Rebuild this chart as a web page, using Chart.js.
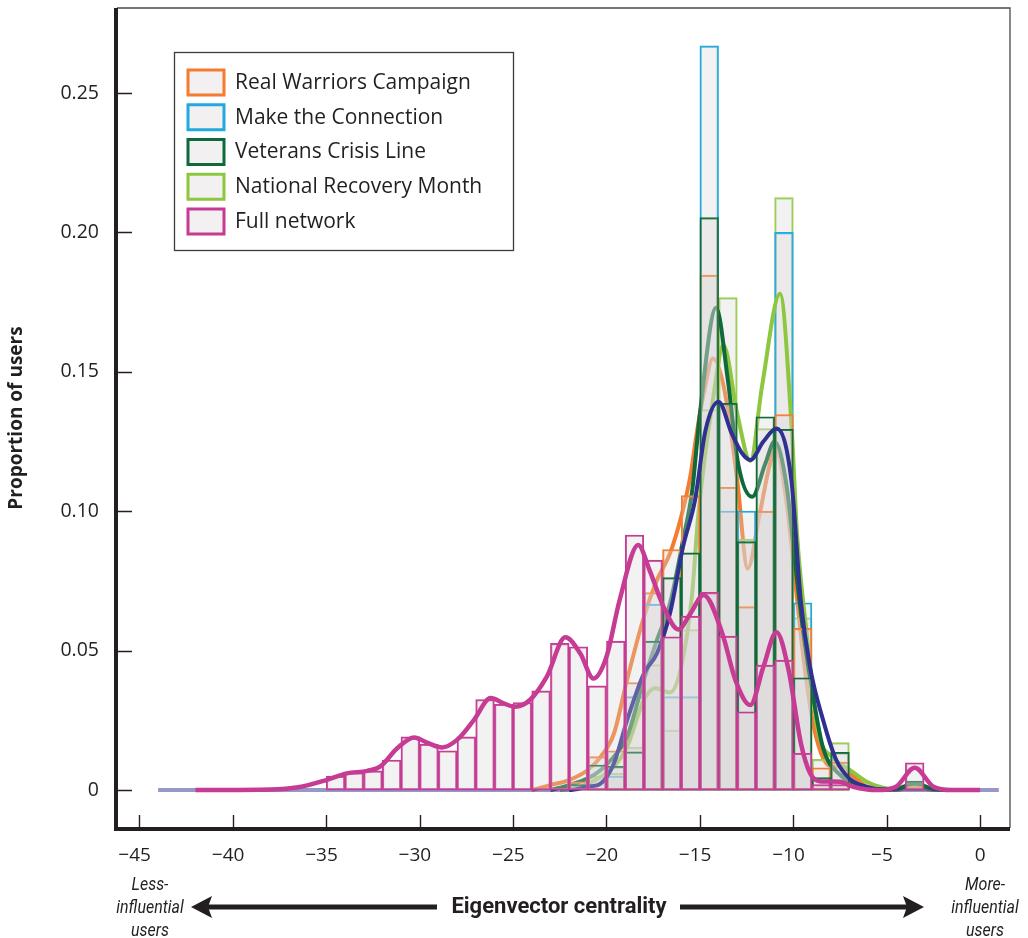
<!DOCTYPE html>
<html><head><meta charset="utf-8">
<script src="https://cdn.jsdelivr.net/npm/chart.js@4.4.1/dist/chart.umd.min.js"></script>
<style>html,body{margin:0;padding:0;background:#fff}#wrap{width:1028px;height:938px;position:relative}</style>
</head><body><div id="wrap"><canvas id="c"></canvas></div>
<script>
// ---------- data ----------
const seriesNames = ['Real Warriors Campaign','Make the Connection','Veterans Crisis Line','National Recovery Month','Full network'];
const xTickValues = [-45,-40,-35,-30,-25,-20,-15,-10,-5,0];
const xTickLabels = ['\u221245','\u221240','\u221235','\u221230','\u221225','\u221220','\u221215','\u221210','\u22125','0'];
const yTickValues = [0,0.05,0.10,0.15,0.20,0.25];
const yTickLabels = ['0','0.05','0.10','0.15','0.20','0.25'];

// histogram bins (centres of 1-unit bins)
const binCenters = [-34.5,-33.5,-32.5,-31.5,-30.5,-29.5,-28.5,-27.5,-26.5,-25.5,-24.5,-23.5,-22.5,-21.5,-20.5,-19.5,-18.5,-17.5,-16.5,-15.5,-14.5,-13.5,-12.5,-11.5,-10.5,-9.5,-8.5,-7.5,-6.5,-5.5,-4.5,-3.5,-2.5];
const barsRealWarriors = [0,0,0,0,0,0,0,0,0,0,0,0,0,0.003,0.012,0.0141,0.0386,0.0708,0.0863,0.1056,0.1847,0.1086,0.0658,0.100,0.1347,0.058,0.008,0.010,0,0,0,0.0013,0];
const barsMakeConnection = [0,0,0,0,0,0,0,0,0,0,0,0,0,0,0,0.005,0.0335,0.0667,0.0335,0.0335,0.2669,0.1001,0.1001,0.1001,0.2000,0.0672,0,0,0,0,0,0,0];
const barsCrisisLine = [0,0,0,0,0,0,0,0,0,0,0,0,0,0.002,0.009,0.0085,0.0137,0.0534,0.0762,0.0851,0.2053,0.1387,0.0891,0.1339,0.1294,0.0403,0.0045,0.0135,0,0,0,0.0032,0];
const barsRecoveryMonth = [0,0,0,0,0,0,0,0,0,0,0,0,0,0,0.005,0.006,0.0153,0.045,0.0215,0.0576,0.1365,0.1766,0.090,0.1297,0.2125,0.0618,0.011,0.017,0,0,0,0.002,0];
const barsFullNetwork = [0.005,0.0062,0.0069,0.0108,0.0191,0.0165,0.0141,0.0191,0.0325,0.0308,0.0314,0.0356,0.0526,0.0514,0.0374,0.0534,0.0915,0.0825,0.055,0.0624,0.0709,0.0552,0.0281,0.0448,0.0466,0.0132,0.002,0.002,0,0,0,0.0098,0];

// density curves [x, y]
const kdeRealWarriors = [[-24,0],[-23,0.0018],[-22,0.0036],[-21,0.0072],[-20.3,0.012],[-19.6,0.0203],[-18.9,0.0395],[-18,0.062],[-17.3,0.0753],[-16.6,0.0849],[-16,0.098],[-15.5,0.113],[-15.17,0.128],[-14.8,0.142],[-14.3,0.1548],[-13.7,0.144],[-13,0.111],[-12.44,0.0795],[-11.8,0.099],[-11.25,0.117],[-10.95,0.123],[-10.4,0.105],[-9.9,0.075],[-9.5,0.05],[-9,0.026],[-8.5,0.013],[-8,0.0085],[-7.4,0.0084],[-6.8,0.005],[-6,0.001],[-5,0],[-4.2,0.0003],[-3.5,0.0015],[-2.8,0.0003],[-2,0]];
const kdeMakeConnection = [[-44,0],[-22,0],[-21,0.0012],[-20.3,0.0024],[-19.6,0.0096],[-18.9,0.025],[-18,0.0418],[-17.3,0.049],[-16.6,0.0634],[-15.9,0.0873],[-15.26,0.104],[-14.7,0.129],[-14,0.1393],[-13.3,0.128],[-12.76,0.121],[-12.3,0.1184],[-11.6,0.125],[-10.9,0.1297],[-10.1,0.111],[-9.6,0.068],[-9.1,0.044],[-8.4,0.025],[-7.7,0.0108],[-7,0.0042],[-6.1,0.0012],[-5,0],[1,0]];
const kdeCrisisLine = [[-23,0],[-22,0.0018],[-21,0.0042],[-20.3,0.0072],[-19.6,0.012],[-18.9,0.019],[-18,0.0395],[-17.3,0.0538],[-16.6,0.067],[-15.9,0.0897],[-15.4,0.108],[-15,0.135],[-14.13,0.173],[-13.5,0.147],[-12.95,0.117],[-12.2,0.1052],[-11.5,0.117],[-11,0.125],[-10.35,0.1088],[-9.9,0.0813],[-9.45,0.056],[-8.9,0.032],[-8.4,0.015],[-7.5,0.0055],[-6.5,0.002],[-5.5,0.0003],[-4.5,0.0004],[-3.5,0.0024],[-2.5,0.0004],[-1.5,0]];
const kdeRecoveryMonth = [[-22.5,0],[-21.4,0.0012],[-20.3,0.0048],[-19.6,0.0084],[-18.9,0.0155],[-18,0.0323],[-17.4,0.0365],[-16.6,0.035],[-16,0.0442],[-15.43,0.0693],[-15.08,0.099],[-14.28,0.141],[-13.74,0.1596],[-13,0.135],[-12.3,0.118],[-11.67,0.145],[-10.71,0.178],[-10.08,0.129],[-9.8,0.092],[-9.28,0.056],[-8.7,0.022],[-7.85,0.0115],[-6.96,0.0072],[-6.07,0.003],[-5.3,0.001],[-4.5,0.0003],[-3.5,0.002],[-2.6,0.0003],[-1.8,0]];
const kdeFullNetwork = [[-42,0],[-38,0.0002],[-36.5,0.001],[-35,0.0036],[-33.9,0.006],[-32.8,0.0069],[-32.1,0.0085],[-31.2,0.015],[-30.3,0.0189],[-29.6,0.017],[-28.8,0.0153],[-28,0.018],[-27.1,0.0251],[-26.2,0.033],[-25.5,0.0311],[-24.9,0.0299],[-24.1,0.0323],[-23.2,0.0406],[-22.2,0.0548],[-21.4,0.049],[-20.7,0.040],[-20,0.0478],[-19.3,0.068],[-18.3,0.0879],[-17.7,0.079],[-16.95,0.0658],[-16.15,0.0576],[-15.5,0.0634],[-14.8,0.070],[-13.8,0.0562],[-13.1,0.0395],[-12.3,0.0305],[-11.6,0.0442],[-10.9,0.0566],[-10.25,0.043],[-9.6,0.017],[-9.1,0.006],[-8.6,0.0032],[-7.5,0.003],[-6.8,0.0012],[-5.5,0],[-4.5,0.0012],[-3.5,0.008],[-2.5,0.0012],[-1.5,0],[0,0]];

// ---------- styling ----------
const ORANGE='#f47b30', CYAN='#22a9e0', DKGREEN='#0e6a3a', LTGREEN='#8dc63f', MAGENTA='#c63b93', NAVY='#2e3192';
const legendColors = [ORANGE, CYAN, DKGREEN, LTGREEN, MAGENTA];
const BAR_FILL = 'rgba(215,211,211,0.3)';
const FONT = "'Open Sans', sans-serif";

function pts(xs, ys){ return xs.map((x,i)=>({x:x, y:ys[i]})); }
function curve(arr){ return arr.map(p=>({x:p[0], y:p[1]})); }
function barDs(label, values, color, order){
  return {type:'bar', label, data: pts(binCenters, values), backgroundColor: BAR_FILL, borderColor: color,
    borderWidth: 1.5, borderSkipped: false, grouped: false, categoryPercentage: 1, barPercentage: 1, order};
}
function lineDs(label, arr, color, width, order, extra){
  return Object.assign({type:'line', label, data: curve(arr), borderColor: color, borderWidth: width,
    pointRadius: 0, fill: false, cubicInterpolationMode: 'monotone', order, clip: false}, extra || {});
}

// higher "order" is drawn first (further back)
const datasets = [
  lineDs(seriesNames[0], kdeRealWarriors, ORANGE, 4, 20),
  barDs(seriesNames[3], barsRecoveryMonth, '#9acd55', 19),
  barDs(seriesNames[1], barsMakeConnection, CYAN, 18),
  lineDs(seriesNames[3], kdeRecoveryMonth, LTGREEN, 4, 17),
  lineDs(seriesNames[2], kdeCrisisLine, DKGREEN, 4, 16),
  barDs(seriesNames[0], barsRealWarriors, ORANGE, 15),
  barDs(seriesNames[2], barsCrisisLine, DKGREEN, 14),
  lineDs(seriesNames[1], kdeMakeConnection, NAVY, 4, 13, {segment:{borderColor: c => (c.p0.parsed.y===0 && c.p1.parsed.y===0) ? 'rgba(46,49,146,0.5)' : NAVY}}),
  barDs(seriesNames[4], barsFullNetwork, MAGENTA, 12),
  lineDs(seriesNames[4], kdeFullNetwork, MAGENTA, 4.5, 11)
];

const decor = {
  id: 'decor',
  afterDraw(chart){
    const {ctx, chartArea: a, scales: {x, y}} = chart;
    ctx.save();
    // frame
    ctx.strokeStyle = '#4a4a4a'; ctx.lineWidth = 1.3;
    ctx.beginPath(); ctx.moveTo(a.left, a.top); ctx.lineTo(a.right, a.top); ctx.lineTo(a.right, a.bottom); ctx.stroke();
    ctx.strokeStyle = '#231f20'; ctx.lineWidth = 4;
    ctx.beginPath(); ctx.moveTo(a.left - 1, a.top); ctx.lineTo(a.left - 1, a.bottom + 1); ctx.lineTo(a.right, a.bottom + 1); ctx.stroke();
    // inward tick marks
    ctx.lineWidth = 1.4;
    ctx.beginPath();
    xTickValues.forEach(v => { const p = Math.round(x.getPixelForValue(v)) + 0.5; ctx.moveTo(p, a.bottom); ctx.lineTo(p, a.bottom - 13); });
    yTickValues.forEach(v => { const p = Math.round(y.getPixelForValue(v)) + 0.5; ctx.moveTo(a.left, p); ctx.lineTo(a.left + 15, p); });
    ctx.stroke();

    // legend
    const lx = 174, ly = 52, lw = 339, lh = 198;
    ctx.fillStyle = '#fff'; ctx.fillRect(lx, ly, lw, lh);
    ctx.strokeStyle = '#3c3c3c'; ctx.lineWidth = 1.3; ctx.strokeRect(lx + 0.5, ly + 0.5, lw, lh);
    ctx.font = '21px ' + FONT; ctx.textBaseline = 'middle'; ctx.textAlign = 'left';
    seriesNames.forEach((name, i) => {
      const cy = 82 + i * 34.75;
      ctx.fillStyle = '#f2f0f0'; ctx.fillRect(188, cy - 12, 36, 25);
      ctx.strokeStyle = legendColors[i]; ctx.lineWidth = 3; ctx.strokeRect(188, cy - 12, 36, 25);
      ctx.fillStyle = '#231f20'; ctx.fillText(name, 235, cy + 1);
    });

    // y title
    ctx.save();
    ctx.translate(17, 418); ctx.rotate(-Math.PI / 2);
    ctx.font = "bold 19px " + FONT; ctx.textAlign = 'center'; ctx.fillStyle = '#231f20';
    ctx.fillText('Proportion of users', 0, 0);
    ctx.restore();

    // x title with arrows
    ctx.fillStyle = '#231f20';
    ctx.font = "bold 22px 'Roboto', sans-serif"; ctx.textAlign = 'center';
    ctx.fillText('Eigenvector centrality', 559, 907);
    ctx.strokeStyle = '#231f20'; ctx.lineWidth = 5;
    ctx.beginPath(); ctx.moveTo(205, 907); ctx.lineTo(437, 907); ctx.moveTo(680, 907); ctx.lineTo(908, 907); ctx.stroke();
    ctx.beginPath(); ctx.moveTo(191, 907); ctx.lineTo(212, 896); ctx.lineTo(208, 907); ctx.lineTo(212, 918); ctx.closePath(); ctx.fill();
    ctx.beginPath(); ctx.moveTo(924, 907); ctx.lineTo(903, 896); ctx.lineTo(907, 907); ctx.lineTo(903, 918); ctx.closePath(); ctx.fill();
    ctx.font = "italic 19px 'Roboto', sans-serif";
    const side = (cx, lines) => {
      ctx.save(); ctx.translate(cx, 0); ctx.scale(0.84, 1);
      lines.forEach((t, i) => ctx.fillText(t, 0, 885 + i * 23));
      ctx.restore();
    };
    side(150, ['Less-', 'influential', 'users']);
    side(985, ['More-', 'influential', 'users']);
    ctx.restore();
  }
};

new Chart(document.getElementById('c'), {
  type: 'bar',
  data: { datasets },
  options: {
    responsive: true, maintainAspectRatio: false, animation: false,
    layout: { padding: { top: 8, right: 18, left: 0, bottom: 0 } },
    plugins: { legend: { display: false }, tooltip: { enabled: false } },
    scales: {
      x: {
        type: 'linear', min: -46.2, max: 1.6, offset: false,
        grid: { display: false, drawTicks: false }, border: { display: false },
        afterBuildTicks: s => { s.ticks = xTickValues.map(v => ({value: v})); },
        afterFit: s => { s.height = 110; s.paddingLeft = 0; s.paddingRight = 0; },
        ticks: { padding: 16, maxRotation: 0, autoSkip: false, color: '#231f20', font: { family: FONT, size: 19 },
          callback: (v, i) => xTickValues[i] < 0 ? xTickLabels[i] + '\u2002' : xTickLabels[i] }
      },
      y: {
        type: 'linear', min: -0.0136, max: 0.2805,
        grid: { display: false, drawTicks: false }, border: { display: false },
        afterBuildTicks: s => { s.ticks = yTickValues.map(v => ({value: v})); },
        afterFit: s => { s.width = 117; s.paddingTop = 0; s.paddingBottom = 0; },
        ticks: { padding: 18, color: '#231f20', font: { family: FONT, size: 19.5 },
          callback: (v, i) => yTickLabels[i] }
      }
    }
  },
  plugins: [decor]
});
</script>
</body></html>
